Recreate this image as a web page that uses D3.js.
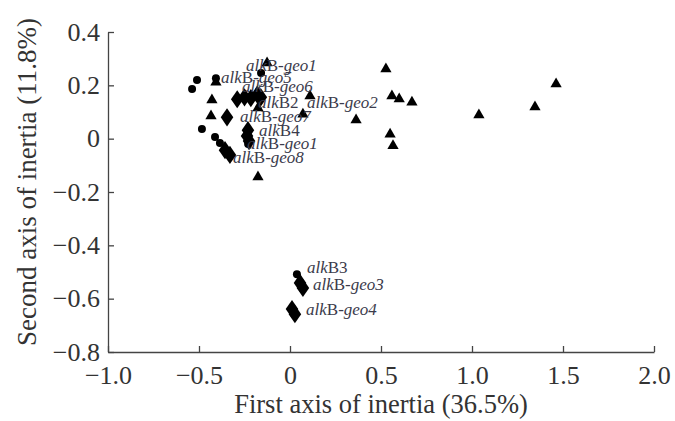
<!DOCTYPE html>
<html>
  <head>
    <meta charset="utf-8">
    <title>Inertia scatter</title>
    <script type="text/javascript" src="https://d3js.org/d3.v7.min.js"></script>
    <style>
      body { margin: 0; background: #fff; }
    </style>
  </head>
  <body>
    <script type="text/javascript">
    var w = 675;
    var h = 421;

    // circles
    var circleX = [-0.511, -0.538, -0.159, -0.407, -0.484, -0.412, -0.385, -0.23, 0.038];
    var circleY = [0.22, 0.186, 0.246, 0.227, 0.036, 0.006, -0.016, -0.02, -0.508];

    // triangles
    var triX = [-0.126, 0.11, -0.176, -0.429, -0.434, -0.407, -0.176, 0.071, 0.527, 0.56, 0.6, 0.67, 0.363, 1.038, 1.346, 1.462, 0.55, 0.566];
    var triY = [0.284, 0.16, 0.115, 0.145, 0.085, 0.212, -0.144, 0.092, 0.261, 0.16, 0.149, 0.137, 0.07, 0.089, 0.119, 0.205, 0.017, -0.027];

    // diamonds
    var diaX = [-0.29, -0.25, -0.215, -0.18, -0.16, -0.346, -0.231, -0.236, -0.225, -0.357, -0.33, 0.055, 0.071, 0.011, 0.027];
    var diaY = [0.148, 0.155, 0.152, 0.165, 0.155, 0.08, 0.032, 0.01, -0.009, -0.043, -0.061, -0.541, -0.56, -0.639, -0.658];

    // labels: [italic prefix, upright part, italic suffix]
    var labelParts = [
      ["alk", "B-", "geo1"], ["alk", "B-", "geo5"], ["alk", "B-", "geo6"],
      ["alk", "B2", ""], ["alk", "B-", "geo2"], ["alk", "B-", "geo7"],
      ["alk", "B4", ""], ["alk", "B-", "geo1"], ["alk", "B-", "geo8"],
      ["alk", "B3", ""], ["alk", "B-", "geo3"], ["alk", "B-", "geo4"]
    ];
    var labelX = [-0.242, -0.379, -0.264, -0.176, 0.093, -0.275, -0.17, -0.236, -0.313, 0.093, 0.126, 0.088];
    var labelY = [0.252, 0.209, 0.175, 0.115, 0.115, 0.062, 0.01, -0.039, -0.091, -0.504, -0.568, -0.661];

    var xTicks = [-1.0, -0.5, 0, 0.5, 1.0, 1.5, 2.0];
    var xTickLabels = ["\u22121.0", "\u22120.5", "0", "0.5", "1.0", "1.5", "2.0"];
    var yTicks = [0.4, 0.2, 0, -0.2, -0.4, -0.6, -0.8];
    var yTickLabels = ["0.4", "0.2", "0", "\u22120.2", "\u22120.4", "\u22120.6", "\u22120.8"];

    var xScale = d3.scaleLinear().domain([-1, 2]).range([108, 654]);
    var yScale = d3.scaleLinear().domain([-0.8, 0.4]).range([352, 32]);

    var svg = d3.select("body")
                .append("svg")
                .attr("width", w)
                .attr("height", h)
                .style("font-family", "'Liberation Serif', 'DejaVu Serif', serif");

    // axes (ticks point inward)
    var xAxis = d3.axisBottom(xScale)
                  .tickValues(xTicks)
                  .tickFormat(function(d, i){ return xTickLabels[i]; })
                  .tickSizeInner(-6)
                  .tickSizeOuter(0)
                  .tickPadding(10);
    var yAxis = d3.axisLeft(yScale)
                  .tickValues(yTicks)
                  .tickFormat(function(d, i){ return yTickLabels[i]; })
                  .tickSizeInner(-6)
                  .tickSizeOuter(0)
                  .tickPadding(8);

    var gx = svg.append("g").attr("transform", "translate(0,352)").call(xAxis);
    var gy = svg.append("g").attr("transform", "translate(108,0)").call(yAxis);

    [gx, gy].forEach(function(g){
      g.selectAll("path, line").attr("stroke", "#444").attr("stroke-width", 1.3);
      g.selectAll("text")
       .attr("fill", "#333")
       .style("font-family", "'Liberation Serif', serif")
       .style("font-size", "26px");
    });
    gx.selectAll("text").attr("dy", "0.84em");

    // axis titles
    svg.append("text")
       .attr("x", 381)
       .attr("y", 413)
       .attr("text-anchor", "middle")
       .attr("fill", "#333")
       .style("font-size", "26.5px")
       .text("First axis of inertia (36.5%)");

    svg.append("text")
       .attr("transform", "translate(36,182) rotate(-90)")
       .attr("text-anchor", "middle")
       .attr("fill", "#333")
       .style("font-size", "27px")
       .text("Second axis of inertia (11.8%)");

    var marks = svg.append("g").attr("fill", "#000");

    // circles
    marks.selectAll("circle")
       .data(d3.range(circleX.length))
       .enter()
       .append("circle")
       .attr("cx", function(i){ return xScale(circleX[i]); })
       .attr("cy", function(i){ return yScale(circleY[i]); })
       .attr("r", 4);

    // triangles
    var triSym = d3.symbol().type(d3.symbolTriangle).size(55);
    marks.selectAll("path.tri")
       .data(d3.range(triX.length))
       .enter()
       .append("path")
       .attr("class", "tri")
       .attr("d", triSym)
       .attr("transform", function(i){
         return "translate(" + xScale(triX[i]) + "," + yScale(triY[i]) + ")";
       });

    // diamonds
    var diaSym = d3.symbol().type(d3.symbolDiamond).size(95);
    marks.selectAll("path.dia")
       .data(d3.range(diaX.length))
       .enter()
       .append("path")
       .attr("class", "dia")
       .attr("d", diaSym)
       .attr("transform", function(i){
         return "translate(" + xScale(diaX[i]) + "," + yScale(diaY[i]) + ") scale(1.2,1)";
       });

    // labels
    var labels = svg.selectAll("text.lab")
       .data(d3.range(labelParts.length))
       .enter()
       .append("text")
       .attr("class", "lab")
       .attr("x", function(i){ return xScale(labelX[i]); })
       .attr("y", function(i){ return yScale(labelY[i]); })
       .attr("fill", "#3b3b4b")
       .style("font-size", "17px");

    labels.each(function(i){
      var t = d3.select(this);
      var p = labelParts[i];
      t.append("tspan").style("font-style", "italic").text(p[0]);
      t.append("tspan").text(p[1]);
      if (p[2]) t.append("tspan").style("font-style", "italic").text(p[2]);
    });
    </script>
  </body>
</html>
